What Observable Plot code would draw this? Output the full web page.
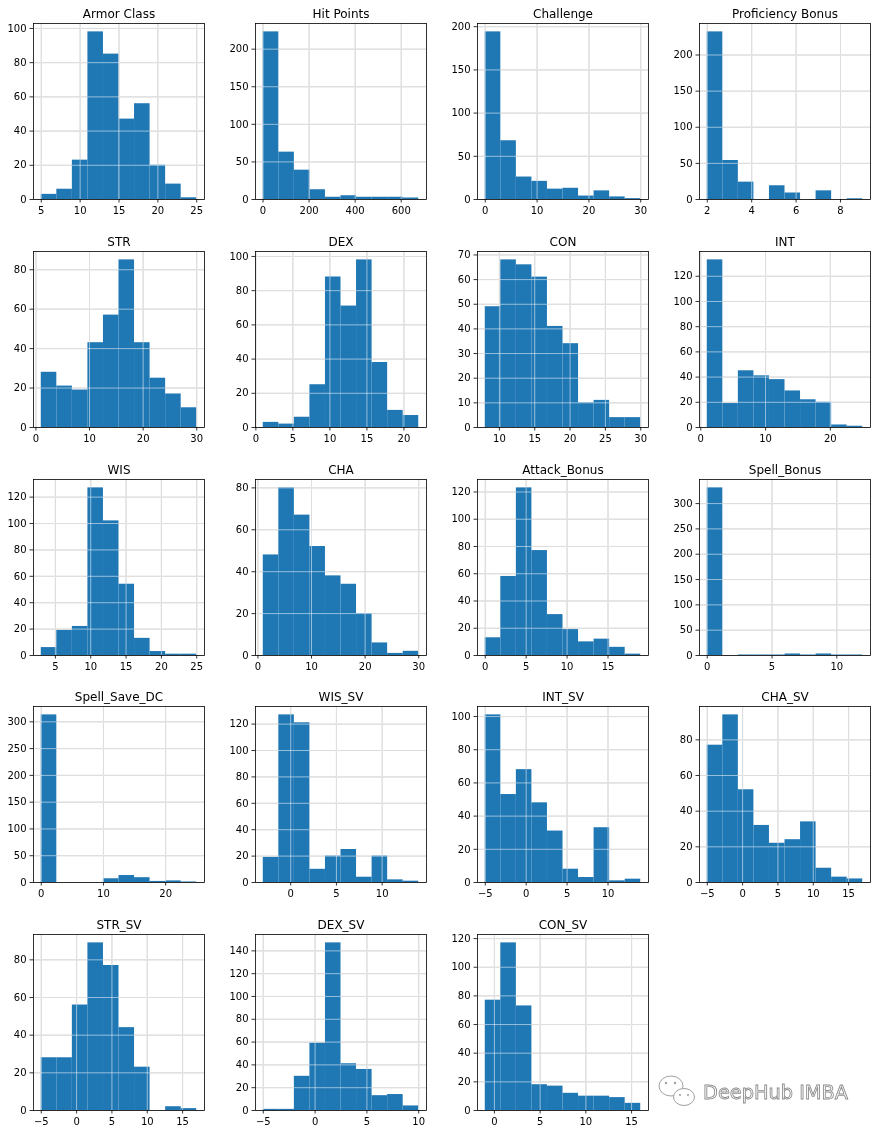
<!DOCTYPE html>
<html>
<head>
<meta charset="utf-8">
<script src="https://cdn.jsdelivr.net/npm/d3@7"></script>
<script src="https://cdn.jsdelivr.net/npm/@observablehq/plot@0.6"></script>
<style>
  html, body { margin: 0; padding: 0; background: white; overflow: hidden; }
  #wrap { position: relative; width: 877px; height: 1134px; overflow: hidden; background: white; }
  .panel { position: absolute; width: 214px; height: 227px; }
  .panel svg { display: block; max-width: none !important; }
</style>
</head>
<body>
<div id="wrap"></div>
<script>
// ---- data (10 equal-width bins between min and max) ----
const titles = ["Armor Class", "Hit Points", "Challenge", "Proficiency Bonus",
  "STR", "DEX", "CON", "INT",
  "WIS", "CHA", "Attack_Bonus", "Spell_Bonus",
  "Spell_Save_DC", "WIS_SV", "INT_SV", "CHA_SV",
  "STR_SV", "DEX_SV", "CON_SV"];

const binMin = [5, 1, 0, 2,   1, 1, 8, 1,   3, 1, 0, 0,   0, -3, -5, -5,   -5, -5, -1];
const binMax = [25, 676, 30, 9,   30, 22, 30, 25,   25, 30, 19, 12,   25, 14, 14, 17,   17, 10, 16];

const counts = [
  [3, 6, 23, 98, 85, 47, 56, 20, 9, 1],        // Armor Class
  [223, 63, 39, 13, 3, 5, 3, 3, 3, 2],         // Hit Points
  [194, 68, 26, 21, 12, 13, 4, 10, 3, 1],      // Challenge
  [232, 54, 24, 0, 19, 9, 0, 12, 0, 1],        // Proficiency Bonus
  [28, 21, 19, 43, 57, 85, 43, 25, 17, 10],    // STR
  [3, 2, 6, 25, 88, 71, 98, 38, 10, 7],        // DEX
  [49, 68, 66, 61, 41, 34, 10, 11, 4, 4],      // CON
  [133, 19, 45, 41, 38, 29, 22, 20, 2, 1],     // INT
  [6, 19, 22, 127, 102, 54, 13, 3, 1, 1],      // WIS
  [48, 80, 67, 52, 38, 34, 20, 6, 1, 2],       // CHA
  [13, 58, 123, 77, 30, 19, 10, 12, 6, 1],     // Attack_Bonus
  [331, 0, 1, 1, 1, 3, 1, 3, 1, 1],            // Spell_Bonus
  [313, 0, 0, 0, 7, 13, 9, 2, 3, 1],           // Spell_Save_DC
  [19, 127, 121, 10, 20, 25, 4, 20, 2, 1],     // WIS_SV
  [101, 53, 68, 48, 31, 8, 3, 33, 1, 2],       // INT_SV
  [77, 94, 52, 32, 22, 24, 34, 8, 3, 2],       // CHA_SV
  [28, 28, 56, 89, 77, 44, 23, 0, 2, 1],       // STR_SV
  [1, 1, 30, 59, 147, 41, 36, 13, 14, 4],      // DEX_SV
  [77, 117, 73, 18, 17, 12, 10, 10, 9, 5]      // CON_SV
];

const xTicks = [
  [5, 10, 15, 20, 25], [0, 200, 400, 600], [0, 10, 20, 30], [2, 4, 6, 8],
  [0, 10, 20, 30], [0, 5, 10, 15, 20], [10, 15, 20, 25, 30], [0, 10, 20],
  [5, 10, 15, 20, 25], [0, 10, 20, 30], [0, 5, 10, 15], [0, 5, 10],
  [0, 10, 20], [0, 5, 10], [-5, 0, 5, 10], [-5, 0, 5, 10, 15],
  [-5, 0, 5, 10, 15], [-5, 0, 5, 10], [0, 5, 10, 15]
];

const yTicks = [
  [0, 20, 40, 60, 80, 100], [0, 50, 100, 150, 200], [0, 50, 100, 150, 200], [0, 50, 100, 150, 200],
  [0, 20, 40, 60, 80], [0, 20, 40, 60, 80, 100], [0, 10, 20, 30, 40, 50, 60, 70], [0, 20, 40, 60, 80, 100, 120],
  [0, 20, 40, 60, 80, 100, 120], [0, 20, 40, 60, 80], [0, 20, 40, 60, 80, 100, 120], [0, 50, 100, 150, 200, 250, 300],
  [0, 50, 100, 150, 200, 250, 300], [0, 20, 40, 60, 80, 100, 120], [0, 20, 40, 60, 80, 100], [0, 20, 40, 60, 80],
  [0, 20, 40, 60, 80], [0, 20, 40, 60, 80, 100, 120, 140], [0, 20, 40, 60, 80, 100, 120]
];

// ---- drawing ----
const wrap = document.getElementById("wrap");
const gridStyle = {stroke: "#a8a8a8", strokeOpacity: 1, strokeWidth: 0.8};

function panel(i) {
  const mn = binMin[i], mx = binMax[i], c = counts[i];
  const w = (mx - mn) / c.length;
  const bins = c.map((v, k) => ({x1: mn + k * w, x2: mn + (k + 1) * w, y: v}));
  const pad = 0.05 * (mx - mn);
  const ymax = 1.05 * d3.max(c);
  return Plot.plot({
    width: 214, height: 227,
    marginLeft: 33, marginRight: 10, marginTop: 23, marginBottom: 28,
    x: {domain: [mn - pad, mx + pad]},
    y: {domain: [0, ymax]},
    style: {fontFamily: "DejaVu Sans", fontSize: "10px", color: "black", background: "transparent", overflow: "visible", maxWidth: "none"},
    marks: [
      Plot.gridX(xTicks[i], gridStyle),
      Plot.gridY(yTicks[i], gridStyle),
      Plot.rectY(bins, {x1: "x1", x2: "x2", y: "y", fill: "#1f77b4"}),
      Plot.gridX(xTicks[i], {...gridStyle, ariaLabel: "gridtop"}),
      Plot.gridY(yTicks[i], {...gridStyle, ariaLabel: "gridtop"}),
      Plot.frame({stroke: "black", strokeWidth: 0.8}),
      Plot.axisX(xTicks[i], {tickSize: 3.5, tickPadding: 3.5, fontSize: 10, label: null, stroke: "black", strokeWidth: 0.8, fill: "black"}),
      Plot.axisY(yTicks[i], {tickSize: 3.5, tickPadding: 3.5, fontSize: 10, label: null, stroke: "black", strokeWidth: 0.8, fill: "black"}),
      Plot.text([titles[i]], {text: d => d, frameAnchor: "top", dy: -6, lineAnchor: "bottom", fontSize: 12, fill: "black"})
    ]
  });
}

titles.forEach((t, i) => {
  const row = Math.floor(i / 4), col = i % 4;
  const div = document.createElement("div");
  div.className = "panel";
  div.style.left = (col * 222) + "px";
  div.style.top = Math.round(row * 227.75) + "px";
  const svg = panel(i);
  svg.style.maxWidth = "none";
  d3.select(svg).selectAll('g[aria-label="gridtop"]').style("mix-blend-mode", "screen");
  div.appendChild(svg);
  wrap.appendChild(div);
});

// watermark
const wm = document.createElementNS("http://www.w3.org/2000/svg", "svg");
wm.setAttribute("width", 877);
wm.setAttribute("height", 1134);
wm.style.position = "absolute";
wm.style.left = "0px";
wm.style.top = "0px";
wm.style.pointerEvents = "none";
wm.innerHTML = `
  <g fill="white" stroke="#a0a0a0" stroke-width="1">
    <ellipse cx="671" cy="1086" rx="12" ry="10"/>
    <ellipse cx="684" cy="1097" rx="10.5" ry="8.5"/>
  </g>
  <g fill="#a0a0a0">
    <circle cx="666" cy="1083" r="1.2"/><circle cx="675" cy="1083" r="1.2"/>
    <circle cx="680" cy="1095" r="1"/><circle cx="688" cy="1095" r="1"/>
  </g>
  <text x="703" y="1099" font-family="DejaVu Sans" font-size="20" textLength="145" lengthAdjust="spacingAndGlyphs"
        fill="white" stroke="#8c8c8c" stroke-width="0.9">DeepHub IMBA</text>`;
wrap.appendChild(wm);
</script>
</body>
</html>
